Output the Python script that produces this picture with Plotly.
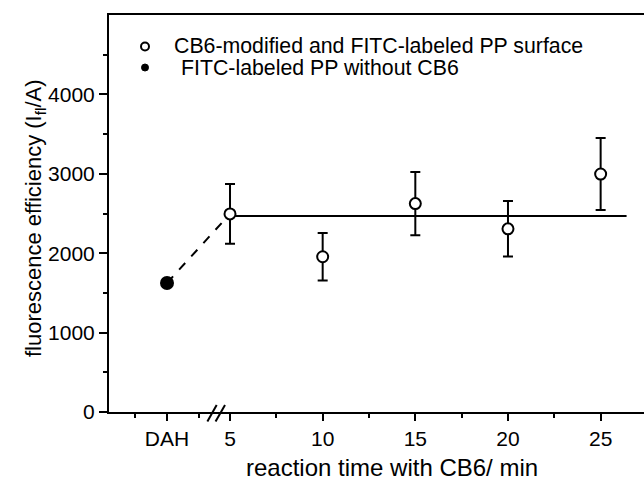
import plotly.graph_objects as go

# ---- data ----
times = [5, 10, 15, 20, 25]
efficiency = [2495, 1955, 2625, 2307, 2997]
efficiency_err = [376, 300, 398, 350, 454]
dah_label = "DAH"
dah_efficiency = 1625
fit_level = 2470
fit_x = [5, 26.4]
tick_labels = ["DAH", "5", "10", "15", "20", "25"]
legend_labels = ["CB6-modified and FITC-labeled PP surface", "FITC-labeled PP without CB6"]

# position of the DAH category on the broken axis
DAH_POS = 1.6

FONT = "Liberation Sans, Arial, sans-serif"

fig = go.Figure()

# dashed connector from reference point to first point
fig.add_trace(go.Scatter(
    x=[DAH_POS, times[0]], y=[dah_efficiency, efficiency[0]],
    mode="lines", line=dict(color="black", width=2, dash="dash"),
    showlegend=False, hoverinfo="skip"))

# horizontal mean line
fig.add_trace(go.Scatter(
    x=fit_x, y=[fit_level, fit_level],
    mode="lines", line=dict(color="black", width=2),
    showlegend=False, hoverinfo="skip"))

# CB6-modified points with error bars
fig.add_trace(go.Scatter(
    x=times, y=efficiency, mode="markers",
    error_y=dict(type="data", array=efficiency_err, visible=True,
                 color="black", thickness=2, width=5),
    marker=dict(symbol="circle", size=11, color="white",
                line=dict(color="black", width=2)),
    name=legend_labels[0], showlegend=False))

# reference point without CB6
fig.add_trace(go.Scatter(
    x=[DAH_POS], y=[dah_efficiency], mode="markers",
    marker=dict(symbol="circle", size=14, color="black"),
    name=legend_labels[1], showlegend=False))

W, H = 644, 482
L, R, T, B = 109, 0, 15, 70
pw, ph = W - L - R, H - T - B

def px_x(p):
    return (p - L) / pw

def px_y(p):
    return (H - B - p) / ph

shapes = []
# axis break slashes
for x0, x1 in [(3.78, 4.28), (4.22, 4.73)]:
    shapes.append(dict(type="line", xref="x", yref="paper",
                       x0=x0, x1=x1, y0=px_y(421.5), y1=px_y(405),
                       line=dict(color="black", width=2)))
# legend symbols
shapes.append(dict(type="circle", xref="paper", yref="paper",
                   xsizemode="pixel", ysizemode="pixel",
                   xanchor=px_x(145), yanchor=px_y(46.5),
                   x0=-4, x1=4, y0=-4, y1=4,
                   fillcolor="white", line=dict(color="black", width=2)))
shapes.append(dict(type="circle", xref="paper", yref="paper",
                   xsizemode="pixel", ysizemode="pixel",
                   xanchor=px_x(145), yanchor=px_y(67.5),
                   x0=-3.5, x1=3.5, y0=-3.5, y1=3.5,
                   fillcolor="black", line=dict(color="black", width=1)))

annotations = [
    dict(text=legend_labels[0], xref="paper", yref="paper",
         x=px_x(172), y=px_y(46), xanchor="left", yanchor="middle",
         showarrow=False, font=dict(family=FONT, size=21.3, color="black")),
    dict(text=legend_labels[1], xref="paper", yref="paper",
         x=px_x(179), y=px_y(68), xanchor="left", yanchor="middle",
         showarrow=False, font=dict(family=FONT, size=21.3, color="black")),
    dict(text="reaction time with CB6/ min", xref="paper", yref="paper",
         x=px_x(392), y=px_y(467), xanchor="center", yanchor="middle",
         showarrow=False, font=dict(family=FONT, size=24, color="black")),
    dict(text="fluorescence efficiency (I<sub>fl</sub>/A)", xref="paper", yref="paper",
         x=px_x(35), y=px_y(218), xanchor="center", yanchor="middle",
         textangle=-90, showarrow=False,
         font=dict(family=FONT, size=22, color="black")),
]

fig.update_layout(
    width=W, height=H,
    margin=dict(l=L, r=R, t=T, b=B, pad=0),
    paper_bgcolor="white", plot_bgcolor="white",
    showlegend=False,
    shapes=shapes, annotations=annotations,
    font=dict(family=FONT, color="black"),
    xaxis=dict(
        range=[-1.53, 27.34],
        tickmode="array",
        tickvals=[DAH_POS] + times,
        ticktext=tick_labels,
        ticks="outside", ticklen=7, tickwidth=2, tickcolor="black",
        minor=dict(tickvals=[-0.13, 3.33, 7.5, 12.5, 17.5, 22.5],
                   ticks="outside", ticklen=4, tickwidth=2, tickcolor="black"),
        showline=True, linecolor="black", linewidth=2, mirror=True,
        showgrid=False, zeroline=False,
        tickfont=dict(family=FONT, size=21, color="black"),
    ),
    yaxis=dict(
        range=[0, 5000],
        tickmode="array", tickvals=[0, 1000, 2000, 3000, 4000],
        ticks="outside", ticklen=8, tickwidth=2, tickcolor="black",
        minor=dict(tickvals=[500, 1500, 2500, 3500, 4500],
                   ticks="outside", ticklen=4, tickwidth=2, tickcolor="black"),
        showline=True, linecolor="black", linewidth=2, mirror=False,
        showgrid=False, zeroline=False,
        tickfont=dict(family=FONT, size=21, color="black"),
    ),
)

fig.write_html("out.html")
